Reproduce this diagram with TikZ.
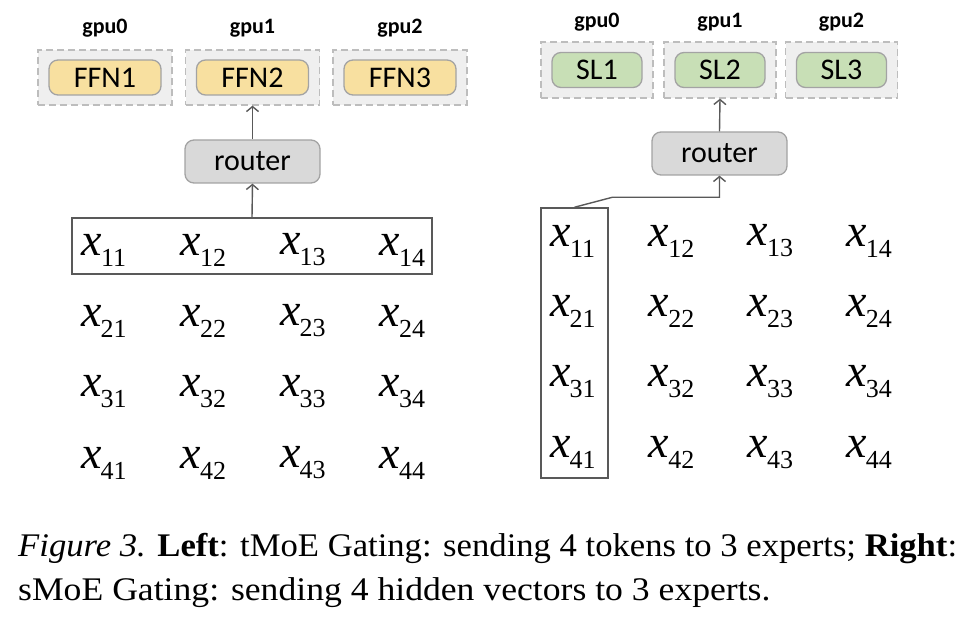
\documentclass[tikz,border=0pt]{standalone}
\usepackage{fontspec}
\setmainfont{Liberation Serif}
\newfontfamily\calibri{Carlito}
\usepackage{xcolor}
\definecolor{boxGray}{HTML}{EFEFEF}
\definecolor{dashGray}{HTML}{BDBDBD}
\definecolor{edgeGray}{HTML}{A3A3A3}
\definecolor{lineDark}{HTML}{595959}
\definecolor{ffnYellow}{HTML}{F8E0A0}
\definecolor{slGreen}{HTML}{C8DFB6}
\definecolor{routerGray}{HTML}{D9D9D9}
\usetikzlibrary{arrows.meta, positioning}
\tikzset{
    % Dashed frame for one gpu
    gpu frame/.style={
        draw=dashGray,
        dash pattern=on 7pt off 4pt,
        line width=1.3pt,
        fill=boxGray,
        inner sep=0pt,
        minimum width=134pt,
        minimum height=55pt,
    },
    % Label above a frame
    gpu label/.style={
        font=\calibri\bfseries\fontsize{22}{24}\selectfont,
        inner sep=0pt,
    },
    % Expert nodes
    expert/.style={
        font=\calibri\fontsize{30}{32}\selectfont,
        draw=edgeGray,
        line width=1.3pt,
        rounded corners=9pt,
        inner sep=0pt,
        minimum height=35pt,
    },
    ffn/.style={expert, fill=ffnYellow, minimum width=112pt},
    sl/.style={expert, fill=slGreen, minimum width=90pt},
    % Router box
    router/.style={
        font=\calibri\fontsize{30}{32}\selectfont,
        draw=edgeGray,
        line width=1.3pt,
        fill=routerGray,
        rounded corners=9pt,
        inner sep=0pt,
        minimum width=135pt,
        minimum height=43pt,
    },
    % Matrix entry
    entry/.style={inner sep=0pt},
    % Frame round a row or column
    select/.style={draw=lineDark, line width=1.5pt, inner sep=0pt},
    % Thin arrow
    arrow/.style={
        draw=lineDark,
        line width=1.4pt,
        -{Straight Barb[length=5pt, width=12pt]},
    },
    % Caption lines
    caption line/.style={anchor=base west, inner sep=0pt, font=\fontsize{33}{40}\selectfont},
}
\newcommand{\xent}[1]{{\fontsize{46}{46}\selectfont\itshape x}\kern-1pt\raisebox{-11pt}{\fontsize{26}{26}\selectfont #1}}

\begin{document}
\begin{tikzpicture}[x=1pt, y=-1pt]
    \useasboundingbox (0,0) rectangle (964,617);

    % Left: tMoE
    \foreach \g/\px in {0/105, 1/252.5, 2/400} {
        \node (frame_l\g) [gpu frame] at (\px,77.5) {};
        \node (gpu_l\g) [gpu label] at (\px,28) {gpu\g};
    }
    \node (ffn1) [ffn] at (frame_l0) {FFN1};
    \node (ffn2) [ffn] at (frame_l1) {FFN2};
    \node (ffn3) [ffn] at (frame_l2) {FFN3};
    \node (router_l) [router] at (252.5,161.5) {router};

    \foreach \r in {1,...,4}
        \foreach \c in {1,...,4}
            \node (L\r\c) [entry] at ({104+99.5*(\c-1)}, {250+71*(\r-1)}) {\xent{\r\c}};
    \node (row_box) [select, minimum width=360pt, minimum height=56pt] at (252,246) {};

    \draw [arrow] (row_box.north) -- (router_l.south);
    \draw [arrow] (router_l.north) -- (frame_l1.south);

    % Right: sMoE
    \foreach \g/\px in {0/597, 1/720, 2/841.5} {
        \node (frame_r\g) [gpu frame, minimum width=112pt, minimum height=56pt] at (\px,70) {};
        \node (gpu_r\g) [gpu label] at (\px,22) {gpu\g};
    }
    \node (sl1) [sl] at (frame_r0) {SL1};
    \node (sl2) [sl] at (frame_r1) {SL2};
    \node (sl3) [sl] at (frame_r2) {SL3};
    \node (router_r) [router] at (719.5,153.5) {router};

    \foreach \r in {1,...,4}
        \foreach \c in {1,...,4}
            \node (R\r\c) [entry] at ({573+98.7*(\c-1)}, {241+70.5*(\r-1)}) {\xent{\r\c}};
    \node (col_box) [select, minimum width=67pt, minimum height=270pt] at (574.5,343) {};

    \draw [arrow] (col_box.north) -- ++(38,-10) -| (router_r.south);
    \draw [arrow] (router_r.north) -- (frame_r1.south);

    % Caption
    \node (caption_a) [caption line] at (18,556)
        {\scalebox{1.05}[1]{\textit{Figure 3.} \textbf{Left}: tMoE Gating: sending 4 tokens to 3 experts; \textbf{Right}:}};
    \node (caption_b) [caption line] at (18,600)
        {\scalebox{1.08}[1]{sMoE Gating: sending 4 hidden vectors to 3 experts.}};
\end{tikzpicture}
\end{document}
